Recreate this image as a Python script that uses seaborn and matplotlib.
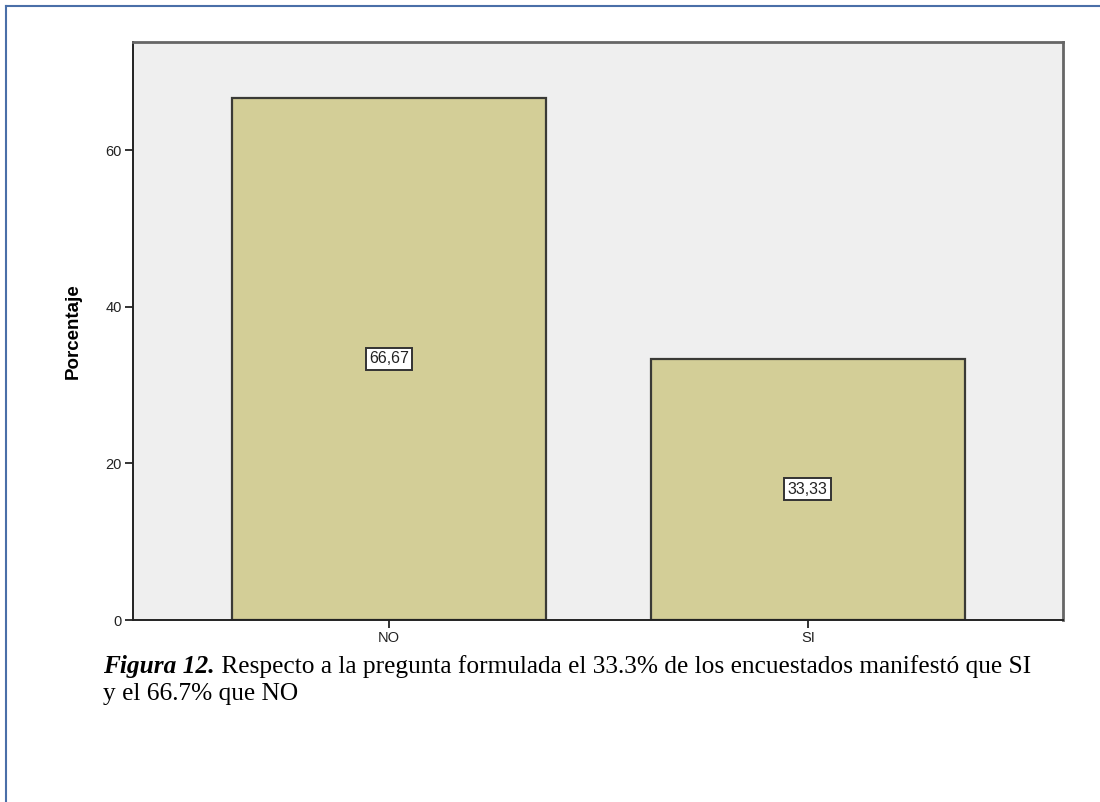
import matplotlib
matplotlib.use("Agg")
import matplotlib.pyplot as plt
import seaborn as sns
import pandas as pd
from matplotlib.lines import Line2D

# data
categories = ["NO", "SI"]
percentages = [66.67, 33.33]
value_labels = ["66,67", "33,33"]
yticks = [0, 20, 40, 60]
caption_bold = "Figura 12."
caption_rest = " Respecto a la pregunta formulada el 33.3% de los encuestados manifestó que SI"
caption_line2 = "y el 66.7% que NO"

df = pd.DataFrame({"Respuesta": categories, "Porcentaje": percentages})

fig = plt.figure(figsize=(11, 8.02), dpi=100)
ax = fig.add_axes([133 / 1100, 1 - 620 / 802, 930 / 1100, 578 / 802])

sns.barplot(data=df, x="Respuesta", y="Porcentaje", color="#d3ce97",
            saturation=1, width=0.75, edgecolor="#3a3a36", linewidth=1.6, ax=ax)

ax.set_facecolor("#efefef")
ax.set_xlim(-0.611, 1.609)
ax.set_ylim(0, 73.8)
ax.set_yticks(yticks)

# value boxes in the middle of each bar
for i, (v, lab) in enumerate(zip(percentages, value_labels)):
    ax.text(i, v / 2, lab, ha="center", va="center", fontsize=11.5,
            family="Liberation Sans", color="#222222",
            bbox=dict(boxstyle="square,pad=0.22", fc="white", ec="#333333", lw=1.4))

for side in ["left", "bottom"]:
    ax.spines[side].set_color("#222222")
    ax.spines[side].set_linewidth(1.4)
for side in ["top", "right"]:
    ax.spines[side].set_color("#666666")
    ax.spines[side].set_linewidth(2)

ax.tick_params(axis="both", direction="out", length=6, width=1.4, color="#333333",
               labelsize=10.5, labelcolor="#222222", pad=2)
for t in ax.get_xticklabels() + ax.get_yticklabels():
    t.set_family("Liberation Sans")

ax.set_xlabel("")
ax.set_ylabel("Porcentaje", fontsize=13.5, fontweight="bold", family="Liberation Sans")
ax.yaxis.set_label_coords(-0.055, 0.5)

# caption
t1 = fig.text(103 / 1100, 1 - 673 / 802, caption_bold, fontsize=18.3, family="Liberation Serif",
              fontweight="bold", fontstyle="italic", va="baseline")
ax.annotate(caption_rest, xy=(1, 0), xycoords=t1, xytext=(0, 0), textcoords="offset points",
            fontsize=18.3, family="Liberation Serif", va="bottom", ha="left",
            annotation_clip=False)
fig.text(103 / 1100, 1 - 700 / 802, caption_line2, fontsize=18.3, family="Liberation Serif",
         va="baseline")

# frame lines around the figure
fig.add_artist(Line2D([6 / 1100, 1], [1 - 6 / 802, 1 - 6 / 802], transform=fig.transFigure,
                      color="#4a6fa8", lw=1.5))
fig.add_artist(Line2D([6 / 1100, 6 / 1100], [0, 1 - 6 / 802], transform=fig.transFigure,
                      color="#4a6fa8", lw=1.5))

fig.savefig("out.png", dpi=100, facecolor="white")
